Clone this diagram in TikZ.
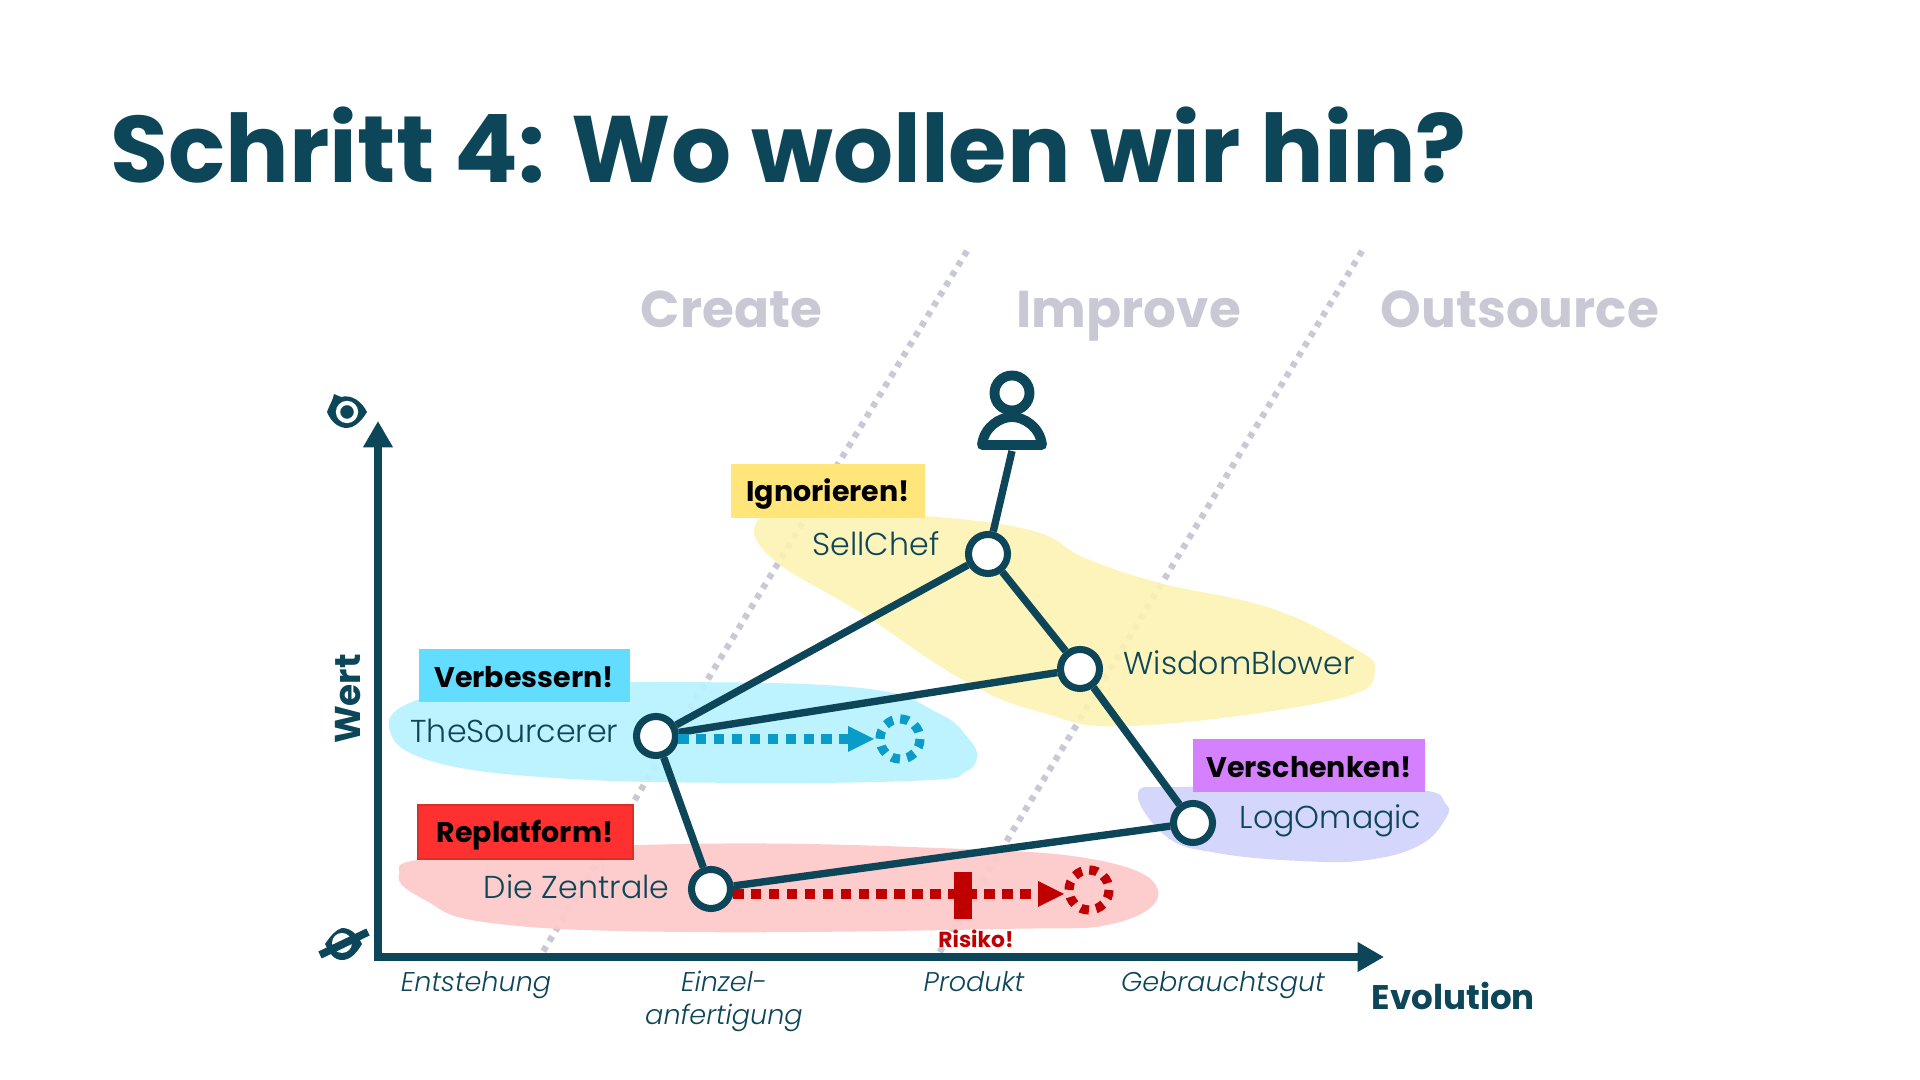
\documentclass[tikz,border=0pt]{standalone}
\usepackage{fontspec}
\setmainfont{Poppins}
\newfontfamily\lightfont{Poppins Light}
\usetikzlibrary{arrows.meta}
\definecolor{navy}{HTML}{0D4658}
\definecolor{faded}{HTML}{C9C9D6}
\definecolor{riskred}{HTML}{C00000}
\definecolor{improveblue}{HTML}{0A9CC8}
\definecolor{blobyellow}{HTML}{FDF3B4}
\definecolor{blobcyan}{HTML}{B9F1FF}
\definecolor{blobpink}{HTML}{FDCACA}
\definecolor{bloblilac}{HTML}{D4D6FB}
\begin{document}
\begin{tikzpicture}[x=0.01cm, y=-0.01cm,
  phase/.style={font=\fontsize{14.7}{16}\selectfont\bfseries, text=faded, anchor=base west, inner sep=0pt},
  comp/.style={circle, draw=navy, fill=white, line width=2pt, minimum size=0.39cm, inner sep=0pt},
  link/.style={draw=navy, line width=2.1pt},
  axisline/.style={navy, line width=2.5pt, -{Triangle[length=7.5pt, width=8pt]}},
  border/.style={faded, line width=1.8pt, dash pattern=on 1.6pt off 1.75pt},
  compname/.style={font=\lightfont\fontsize{9}{10}\selectfont, text=navy, inner sep=0pt},
  stage/.style={font=\lightfont\fontsize{7.7}{10}\selectfont\itshape, text=navy, inner sep=0pt, anchor=base},
  tag/.style={font=\fontsize{8.1}{10}\selectfont\bfseries, text=black, anchor=center, inner sep=0pt},
  move/.style={line width=2.6pt, dash pattern=on 3pt off 2.1pt},
  ghost/.style={line width=2.6pt, dash pattern=on 2.4pt off 2.07pt}]
  \useasboundingbox (0,0) rectangle (1920,1080);
  % heading
  \node[anchor=base west, inner sep=0pt, text=navy, font=\fontsize{26.85}{32}\selectfont\bfseries] (heading) at (110,183) {Schritt 4: Wo wollen wir hin?};
  % phases
  \node[phase] (create) at (640,328) {Create};
  \node[phase] (improve) at (1016,328) {Improve};
  \node[phase] (outsource) at (1380,328) {Outsource};
  % phase borders
  \draw[border] (967,251) -- (541,955);
  \draw[border] (1362,251) -- (938,955);
  % blobs
  \fill[blobyellow, opacity=0.9]
    plot[smooth cycle, tension=0.7] coordinates {(756,523) (800,513) (912,515) (1030,530) (1085,558) (1160,583) (1267,607) (1345,643) (1375,670) (1333,700) (1133,726) (1040,712) (963,680) (861,613) (774,560)};
  \fill[blobcyan, opacity=0.95]
    plot[smooth cycle, tension=0.7] coordinates {(389,727) (417,700) (500,686) (657,682) (861,688) (938,713) (968,738) (977,757) (965,772) (930,780) (759,783) (555,778) (428,760)};
  \fill[blobpink, opacity=0.95]
    plot[smooth cycle, tension=0.7] coordinates {(399,875) (440,857) (683,844) (938,848) (1097,860) (1158,890) (1116,923) (1001,929) (683,932) (491,923) (425,900)};
  \fill[bloblilac]
    plot[smooth cycle, tension=0.7] coordinates {(1138,793) (1180,787) (1300,787) (1420,790) (1445,803) (1446,818) (1420,845) (1367,860) (1300,861) (1217,853) (1167,837)};
  % axes
  \draw[axisline] (378,961) -- (378,421);
  \draw[axisline] (374,957) -- (1384,957);
  \node[rotate=90, text=navy, font=\fontsize{10.2}{12}\selectfont\bfseries, inner sep=0pt] (wert) at (348,699) {Wert};
  \node[anchor=base west, text=navy, font=\fontsize{9.7}{12}\selectfont\bfseries, inner sep=0pt] (evolution) at (1371,1010) {Evolution};
  % stages
  \node[stage] (entstehung) at (476,992) {Entstehung};
  \node[stage] (einzel) at (724,992) {Einzel-};
  \node[stage] (anfertigung) at (724,1025) {anfertigung};
  \node[stage] (produkt) at (974,992) {Produkt};
  \node[stage] (gebrauch) at (1223,992) {Gebrauchtsgut};
  % eyes
  \fill[navy] (327,412) .. controls (330,404) and (333,400) .. (334,394) -- (341,397) .. controls (352,394) and (362,402) .. (367,412) .. controls (360,424) and (352,428) .. (347,428) .. controls (340,428) and (332,424) .. (327,412) -- cycle;
  \draw[white, line width=1.2pt] (347,412) circle (9);
  \fill[navy] (325,944) .. controls (332,934) and (336,930) .. (342,928) .. controls (352,928) and (358,936) .. (362,944) .. controls (356,954) and (350,960) .. (342,960) .. controls (334,960) and (330,954) .. (325,944) -- cycle;
  \fill[white] (342,943) circle (10);
  \draw[navy, line width=2.2pt] (320,955) -- (368,932);
  % person
  \draw[navy, line width=2.8pt] (1012,393) circle (17.5);
  \draw[navy, line width=2.8pt, line join=round, fill=white] (982,445) .. controls (984,427) and (1000,417) .. (1012,417) .. controls (1024,417) and (1040,427) .. (1042,445) -- cycle;
  \coordinate (user) at (1012,451);
  % components
  \node[comp] (sellchef) at (988,554) {};
  \node[comp] (wisdomblower) at (1080,669) {};
  \node[comp] (logomagic) at (1193,823) {};
  \node[comp] (sourcerer) at (656,736) {};
  \node[comp] (zentrale) at (711,889) {};
  % value chain
  \draw[link] (user) -- (sellchef);
  \draw[link] (sellchef) -- (sourcerer);
  \draw[link] (sellchef) -- (wisdomblower);
  \draw[link] (wisdomblower) -- (sourcerer);
  \draw[link] (wisdomblower) -- (logomagic);
  \draw[link] (sourcerer) -- (zentrale);
  \draw[link] (zentrale) -- (logomagic);
  \node[compname, anchor=base east] (lsellchef) at (940,556) {SellChef};
  \node[compname, anchor=base west] (lwisdom) at (1123,675) {WisdomBlower};
  \node[compname, anchor=base west] (llog) at (1239,829) {LogOmagic};
  \node[compname, anchor=base east] (lsource) at (619,743) {TheSourcerer};
  \node[compname, anchor=base east] (lzentrale) at (670,899) {Die Zentrale};
  % tags
  \fill[fill={rgb,255:red,255;green,229;blue,122}] (731,464) rectangle (925,518);
  \node[tag] (ignore) at (828,494) {Ignorieren!};
  \fill[fill={rgb,255:red,98;green,221;blue,255}] (419,649) rectangle (630,702);
  \node[tag] (improvetag) at (524,677) {Verbessern!};
  \draw[fill={rgb,255:red,255;green,48;blue,48}, draw={rgb,255:red,214;green,50;blue,40}, line width=0.3pt] (418,805) rectangle (633,859);
  \node[tag] (replatform) at (525,835) {Replatform!};
  \fill[fill={rgb,255:red,213;green,128;blue,255}] (1193,739) rectangle (1425,792);
  \node[tag] (giveaway) at (1309,767) {Verschenken!};
  % moves
  \draw[improveblue, move] (678,739) -- (848,739);
  \fill[improveblue] (848,726) -- (874,739) -- (848,752) -- cycle;
  \draw[improveblue, ghost] (900,739) circle (20);
  \draw[riskred, move] (733,894) -- (1038,894);
  \fill[riskred] (1038,881) -- (1064,894) -- (1038,907) -- cycle;
  \draw[riskred, ghost] (1089,890) circle (20);
  \fill[riskred] (954,872) rectangle (972,919);
  \node[anchor=base, inner sep=0pt, text=riskred, font=\fontsize{6.2}{8}\selectfont\bfseries] (risiko) at (976,948) {Risiko!};
\end{tikzpicture}
\end{document}
